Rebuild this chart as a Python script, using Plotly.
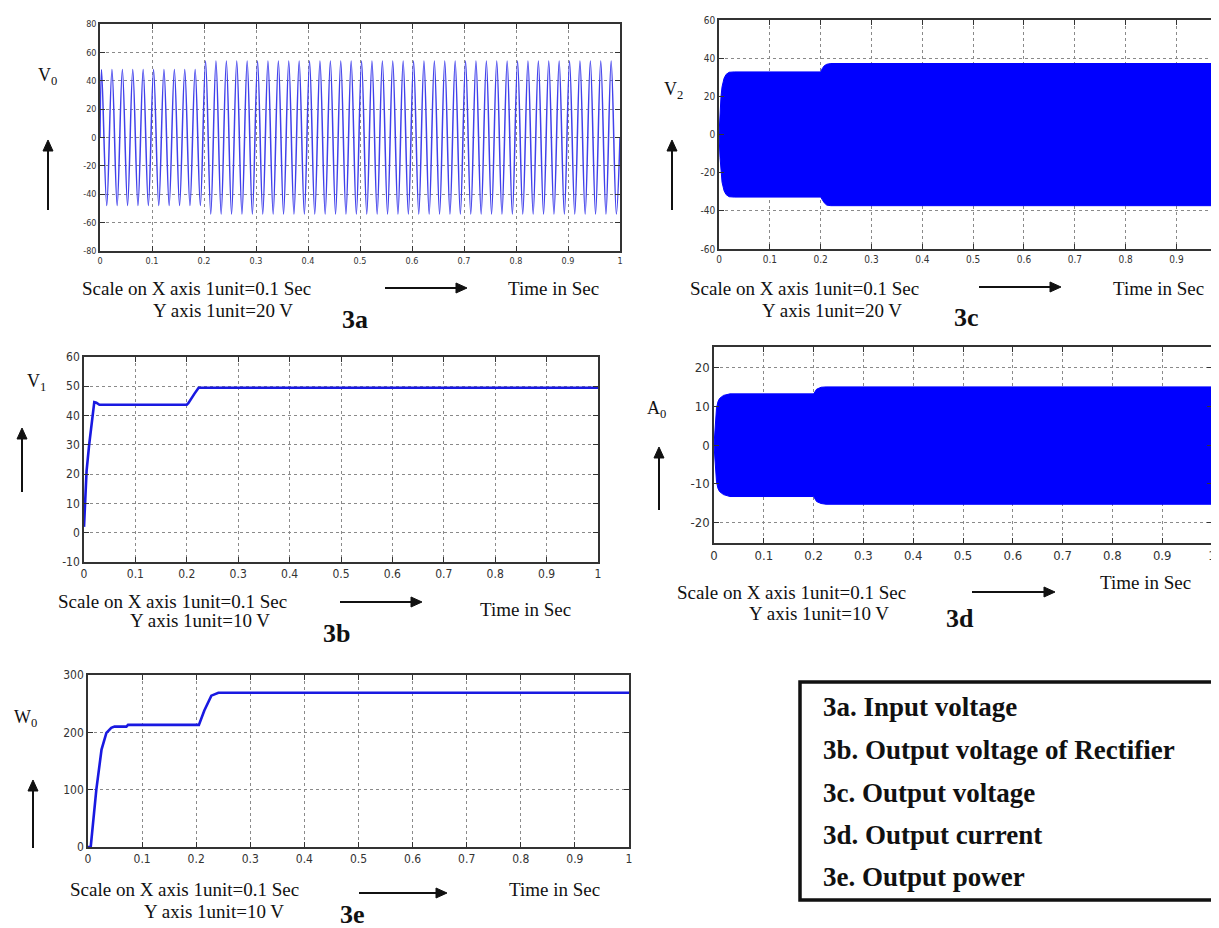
import plotly.graph_objects as go

# the page shows the figure with an 8 px body margin, so the figure is
# sized to the visible area and positions are given in window pixels
OFF = 8
W, H = 1219 - OFF, 928 - OFF

# ---------------- data ----------------
ticks_x = [0, 0.1, 0.2, 0.3, 0.4, 0.5, 0.6, 0.7, 0.8, 0.9, 1.0]
ticktext_x = ["0", "0.1", "0.2", "0.3", "0.4", "0.5", "0.6", "0.7", "0.8", "0.9", "1"]

# 3a : input voltage, peak amplitude of every cycle (50 Hz, 50 cycles)
amp_3a = [48, 48, 48, 48, 48, 48, 48, 48, 48, 48,
          54, 54, 54, 54, 54, 54, 54, 54, 54, 54,
          54, 54, 54, 54, 54, 54, 54, 54, 54, 54,
          54, 54, 54, 54, 54, 54, 54, 54, 54, 54,
          54, 54, 54, 54, 54, 54, 54, 54, 54, 54]
first_peak_3a = 0.003
period_3a = 0.02

# 3b : output voltage of rectifier
t_3b = [0, 0.002, 0.005, 0.01, 0.015, 0.02, 0.024, 0.03, 0.2, 0.203, 0.215, 0.223, 1.0]
v_3b = [2, 10, 21, 30, 38, 44.6, 44.4, 43.7, 43.7, 44.2, 47.5, 49.5, 49.5]

# 3c : output voltage envelope (high-frequency band)
t_3c = [0, 0.002, 0.004, 0.006, 0.01, 0.014, 0.02, 0.03, 0.2, 0.203, 0.207, 0.212, 0.22, 1.0]
up_3c = [0, 12, 20, 25, 29.5, 31.5, 32.6, 32.8, 32.8, 34.5, 36, 36.8, 37.2, 37.2]
lo_3c = [0, -12, -20, -25, -29.5, -31.5, -32.6, -32.8, -32.8, -34, -35.8, -37, -37.3, -37.3]

# 3d : output current envelope
t_3d = [0, 0.002, 0.005, 0.008, 0.011, 0.019, 0.032, 0.2, 0.203, 0.206, 0.215, 0.225, 1.0]
up_3d = [0, 4.7, 9.5, 11.2, 12, 12.8, 13.2, 13.2, 13.9, 14.4, 14.9, 15, 15]
lo_3d = [0, -4.7, -9.5, -11.2, -12, -12.8, -13.3, -13.3, -14, -14.6, -15.1, -15.3, -15.3]

# 3e : output power
t_3e = [0, 0.005, 0.0154, 0.025, 0.034, 0.043, 0.049, 0.071, 0.074, 0.205, 0.215, 0.228, 0.241, 1.0]
p_3e = [0, 0, 100, 170, 199, 208, 210, 210, 213, 213, 238, 264, 269, 269]

legend_lines = ["3a. Input voltage", "3b. Output voltage of Rectifier",
                "3c. Output voltage", "3d. Output current", "3e. Output power"]

# ---------------- helpers ----------------
def px(x):
    return (x - OFF) / W

def py(y):
    return 1 - (y - OFF) / H

TICKFONT = "Liberation Sans Narrow, DejaVu Sans Condensed, Arial Narrow, sans-serif"
SERIF = "Liberation Serif, Times New Roman, serif"

def xaxis(dom, rng, size, mirror="ticks"):
    return dict(domain=[max(0, px(dom[0])), min(1, px(dom[1]))], range=rng, tickvals=ticks_x, ticktext=ticktext_x,
                showline=True, linecolor="#333", linewidth=1.5, mirror=mirror,
                ticks="inside", ticklen=5, tickcolor="#333", tickwidth=1.2,
                showgrid=True, gridcolor="#8a8a8a", griddash="dot", gridwidth=1,
                zeroline=False, tickfont=dict(family=TICKFONT, size=size, color="#333"),
                ticklabeloverflow="allow", fixedrange=True, automargin=False)

def yaxis(dom, rng, tv, size, anchor, mirror="ticks"):
    return dict(domain=[py(dom[1]), py(dom[0])], range=rng, tickvals=tv,
                ticktext=[str(v) for v in tv], anchor=anchor,
                showline=True, linecolor="#333", linewidth=1.5, mirror=mirror,
                ticks="inside", ticklen=5, tickcolor="#333", tickwidth=1.2,
                showgrid=True, gridcolor="#8a8a8a", griddash="dot", gridwidth=1,
                zeroline=False, tickfont=dict(family=TICKFONT, size=size, color="#333"),
                fixedrange=True, automargin=False)

fig = go.Figure()

# 3a sine built from per-cycle peaks
xa, ya = [0.0], [0.0]
for k, a in enumerate(amp_3a):
    tp = first_peak_3a + k * period_3a
    xa += [tp, tp + period_3a / 2]
    ya += [a, -a]
xa.append(1.0)
ya.append(0.0)
fig.add_trace(go.Scatter(x=xa, y=ya, mode="lines", line=dict(color="rgb(65,65,235)", width=1.5, shape="spline", smoothing=1.0),
                         xaxis="x", yaxis="y", showlegend=False, hoverinfo="skip"))

# 3b
fig.add_trace(go.Scatter(x=t_3b, y=v_3b, mode="lines", line=dict(color="rgb(25,25,225)", width=2.6),
                         xaxis="x2", yaxis="y2", showlegend=False))

# 3c band
fig.add_trace(go.Scatter(x=t_3c + t_3c[::-1], y=up_3c + lo_3c[::-1], mode="lines", fill="toself",
                         fillcolor="rgb(0,0,255)", line=dict(color="rgb(0,0,255)", width=1),
                         xaxis="x3", yaxis="y3", showlegend=False))

# 3d band
fig.add_trace(go.Scatter(x=t_3d + t_3d[::-1], y=up_3d + lo_3d[::-1], mode="lines", fill="toself",
                         fillcolor="rgb(0,0,255)", line=dict(color="rgb(0,0,255)", width=1),
                         xaxis="x4", yaxis="y4", showlegend=False))

# 3e
fig.add_trace(go.Scatter(x=t_3e, y=p_3e, mode="lines", line=dict(color="rgb(25,25,225)", width=2.6),
                         xaxis="x5", yaxis="y5", showlegend=False))

fig.update_layout(
    template="none",
    width=W, height=H, margin=dict(l=0, r=0, t=0, b=0, autoexpand=False),
    paper_bgcolor="white", plot_bgcolor="white", showlegend=False,
    xaxis=xaxis((100, 620), [0, 1], 9),
    yaxis=yaxis((24, 251), [-80, 80], [-80, -60, -40, -20, 0, 20, 40, 60, 80], 9, "x"),
    xaxis2=dict(xaxis((84, 598), [0, 1], 12), anchor="y2"),
    yaxis2=yaxis((357, 562), [-10, 60], [-10, 0, 10, 20, 30, 40, 50, 60], 12, "x2"),
    xaxis3=dict(xaxis((719, 1219), [0, (1219 - 719) / 508.3], 10), anchor="y3"),
    yaxis3=yaxis((20, 249), [-60, 60], [-60, -40, -20, 0, 20, 40, 60], 10, "x3", mirror=False),
    xaxis4=dict(xaxis((714, 1212), [0, 1], 13), anchor="y4"),
    yaxis4=yaxis((347, 543), [-25.3, 25.3], [-20, -10, 0, 10, 20], 13, "x4"),
    xaxis5=dict(xaxis((88, 629), [0, 1], 12), anchor="y5"),
    yaxis5=yaxis((675, 847), [0, 300], [0, 100, 200, 300], 12, "x5"),
)

ann = []
shapes = []

def text(s, x, y, size=19, bold=False, xanchor="center"):
    ann.append(dict(text=("<b>%s</b>" % s) if bold else s, x=px(x), y=py(y), xref="paper", yref="paper",
                    xanchor=xanchor, yanchor="middle", showarrow=False,
                    font=dict(family=SERIF, size=size, color="#111")))

def arrow(x0, y0, x1, y1):
    """shaft from (x0,y0) to head at (x1,y1), window pixel coordinates"""
    dx, dy = x1 - x0, y1 - y0
    L = (dx * dx + dy * dy) ** 0.5
    ux, uy = dx / L, dy / L
    hl, hw = 11, 5
    bx, by = x1 - ux * hl, y1 - uy * hl
    shapes.append(dict(type="line", xref="paper", yref="paper", x0=px(x0), y0=py(y0), x1=px(bx), y1=py(by),
                       line=dict(color="#111", width=2)))
    p1 = (bx - uy * hw, by + ux * hw)
    p2 = (bx + uy * hw, by - ux * hw)
    path = "M %f %f L %f %f L %f %f Z" % (px(x1), py(y1), px(p1[0]), py(p1[1]), px(p2[0]), py(p2[1]))
    shapes.append(dict(type="path", xref="paper", yref="paper", path=path,
                       fillcolor="#111", line=dict(color="#111", width=1)))

# panel texts
panels = [
    ("V<sub>0</sub>", (47, 77), (48, 140, 70), (196, 289), "Y axis 1unit=20 V", (223, 311), (467, 288, 82), (553, 289), "3a", (355, 319)),
    ("V<sub>2</sub>", (673, 90), (672, 140, 70), (804, 288), "Y axis 1unit=20 V", (832, 311), (1061, 287, 82), (1158, 289), "3c", (966, 318)),
    ("V<sub>1</sub>", (36, 383), (22, 428, 64), (172, 601), "Y axis 1unit=10 V", (200, 620), (422, 602, 82), (525, 609), "3b", (336, 633)),
    ("A<sub>0</sub>", (656, 409), (659, 447, 63), (791, 592), "Y axis 1unit=10 V", (819, 613), (1055, 592, 83), (1145, 582), "3d", (960, 618)),
    ("W<sub>0</sub>", (25, 718), (33, 780, 68), (184, 889), "Y axis 1unit=10 V", (214, 911), (447, 893, 88), (554, 889), "3e", (352, 914)),
]
for lab, lp, ua, sp, ytxt, yp, ra, tp, pid, pp in panels:
    text(lab, lp[0], lp[1], size=18)
    arrow(ua[0], ua[1] + ua[2], ua[0], ua[1])
    text("Scale on X axis 1unit=0.1 Sec", sp[0], sp[1])
    text(ytxt, yp[0], yp[1])
    arrow(ra[0] - ra[2], ra[1], ra[0], ra[1])
    text("Time in Sec", tp[0], tp[1])
    text(pid, pp[0], pp[1], size=26, bold=True)

leg_y = [707, 750, 793, 835, 877]
for s, yy in zip(legend_lines, leg_y):
    text(s, 821, yy, size=27, bold=True, xanchor="left")

shapes.append(dict(type="rect", xref="paper", yref="paper", x0=px(800), x1=px(1240), y0=py(900), y1=py(682),
                   line=dict(color="#111", width=3.5), fillcolor="rgba(0,0,0,0)"))

fig.update_layout(annotations=ann, shapes=shapes)

fig.write_html("out.html")
